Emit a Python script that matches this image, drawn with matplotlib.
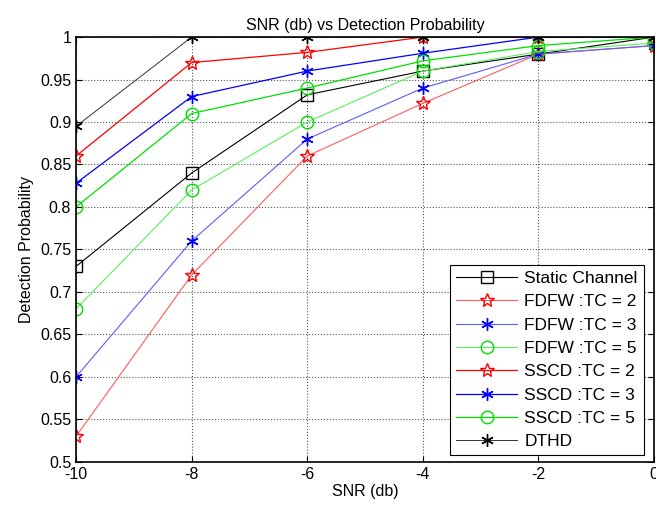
import matplotlib
matplotlib.use('Agg')
import matplotlib.pyplot as plt

plt.rcParams['font.family'] = ['Liberation Sans', 'DejaVu Sans']

snr = [-10, -8, -6, -4, -2, 0]
static_ch = [0.73, 0.84, 0.932, 0.96, 0.98, 1.0]
fdfw_tc2 = [0.53, 0.72, 0.86, 0.922, 0.98, 0.99]
fdfw_tc3 = [0.60, 0.76, 0.88, 0.94, 0.98, 0.99]
fdfw_tc5 = [0.68, 0.82, 0.90, 0.96, 0.983, 0.993]
sscd_tc2 = [0.86, 0.97, 0.982, 1.0, 1.0, 1.0]
sscd_tc3 = [0.828, 0.93, 0.96, 0.981, 1.0, 1.0]
sscd_tc5 = [0.80, 0.91, 0.94, 0.972, 0.99, 1.0]
dthd = [0.895, 1.0, 1.0, 1.0, 1.0, 1.0]

yticks = [0.5, 0.55, 0.6, 0.65, 0.7, 0.75, 0.8, 0.85, 0.9, 0.95, 1.0]
ytick_labels = ['0.5', '0.55', '0.6', '0.65', '0.7', '0.75', '0.8', '0.85', '0.9', '0.95', '1']
xticks = [-10, -8, -6, -4, -2, 0]

asterisk = (6, 2, 0)

fig = plt.figure(figsize=(6.56, 5.08), dpi=100)
ax = fig.add_axes([0.116, 0.091, 0.881, 0.836])

ax.plot(snr, static_ch, color='black', lw=0.8, marker='s', ms=9, mfc='none', mec='black', label='Static Channel')
ax.plot(snr, fdfw_tc2, color='#ff5c5c', lw=0.8, marker='*', ms=10, mfc='none', mec='red', label='FDFW :TC = 2')
ax.plot(snr, fdfw_tc3, color='#5c5cff', lw=0.8, marker=asterisk, ms=9, mec='blue', label='FDFW :TC = 3')
ax.plot(snr, fdfw_tc5, color='#5cf05c', lw=0.8, marker='o', ms=9, mfc='none', mec='#00dd00', label='FDFW :TC = 5')
ax.plot(snr, sscd_tc2, color='red', lw=0.9, marker='*', ms=10, mfc='none', mec='red', label='SSCD :TC = 2')
ax.plot(snr, sscd_tc3, color='blue', lw=0.9, marker=asterisk, ms=9, mec='blue', label='SSCD :TC = 3')
ax.plot(snr, sscd_tc5, color='#00e000', lw=0.9, marker='o', ms=9, mfc='none', mec='#00e000', label='SSCD :TC = 5')
ax.plot(snr, dthd, color='#333333', lw=0.7, marker=asterisk, ms=9, mec='black', label='DTHD')

ax.set_xlim(-10, 0)
ax.set_ylim(0.5, 1.0)
ax.set_xticks(xticks)
ax.set_xticklabels([str(x) for x in xticks])
ax.set_yticks(yticks)
ax.set_yticklabels(ytick_labels)
ax.tick_params(direction='in', labelsize=11.5, length=4)
ax.tick_params(top=True, right=True)
ax.grid(True, color='#555555', linestyle=':', linewidth=0.8)
for s in ax.spines.values():
    s.set_linewidth(1.2)

ax.set_title('SNR (db) vs Detection Probability', fontsize=11.5, pad=5)
ax.set_xlabel('SNR (db)', fontsize=11.5, labelpad=2)
ax.set_ylabel('Detection Probability', fontsize=11.5, labelpad=4)

leg = ax.legend(loc='lower right', fontsize=12.5, frameon=True, fancybox=False,
                edgecolor='black', framealpha=1, handlelength=3.5,
                bbox_to_anchor=(0.982, 0.015), borderaxespad=0,
                labelspacing=0.47, borderpad=0.35, handletextpad=0.4)
leg.get_frame().set_linewidth(0.8)

fig.savefig('out.png', dpi=100)
